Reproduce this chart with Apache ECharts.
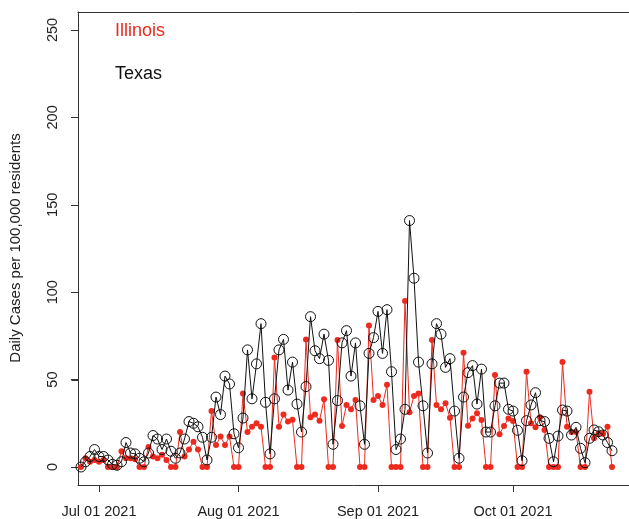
<!DOCTYPE html>
<html>
<head>
<meta charset="utf-8">
<script src="https://cdn.jsdelivr.net/npm/echarts@6/dist/echarts.min.js"></script>
<style>
html,body{margin:0;padding:0;background:#fff;}
#chart{width:629px;height:519px;}
</style>
</head>
<body>
<div id="chart"></div>
<script>
// Daily values from 2021-06-27 to 2021-10-23 (one per day)
const startDate = '2021-06-27';
const texas = [
  0, 3, 6, 10, 6, 6, 4, 1.5, 1, 3,
  14, 8, 7.5, 5, 3, 8, 18, 16, 10, 16,
  9, 5, 8, 16, 26, 25, 23, 17, 4, 17,
  40, 30, 52, 47.5, 19, 11, 28, 67, 39, 59,
  82, 37, 7.5, 39, 67, 73, 44, 60, 36, 20,
  46, 86, 66.5, 62, 76, 61, 13, 38, 71, 78,
  52, 71, 35, 13, 65, 74, 89, 65, 90, 54.5,
  10, 16, 33, 141, 108, 60, 35, 8, 59, 82,
  76, 57, 62, 32, 5, 40, 54, 58, 36, 56,
  20, 20, 35, 48, 48, 33, 32, 21, 3.6, 26.5,
  35.5, 42.5, 26.5, 26, 16.4, 3, 17.7, 32.6, 32, 18.3,
  22.7, 10.7, 2.5, 16.4, 21.2, 20.2, 18.3, 14, 9.3
];
const illinois = [
  0, 5, 3, 4, 3, 4, 0, 0, 0, 9,
  5, 5, 4.5, 0, 0, 11.5, 6, 5, 7, 4,
  0, 0, 20, 6, 10, 14.5, 10, 0, 0, 32,
  12.6, 17.4, 12.6, 17.4, 0, 0, 42, 20, 23, 25,
  23, 0, 0, 62.7, 23, 30, 26, 27, 0, 0,
  73, 28.4, 30, 26.5, 38.7, 0, 0, 72.7, 23.5, 35.5,
  33, 38.3, 0, 0, 81, 38.3, 40.6, 35.5, 47, 0,
  0, 0, 95, 31.3, 40.6, 42, 0, 0, 72.7, 35.5,
  33, 36.4, 28.2, 0, 0, 65.4, 23.6, 27.8, 30.7, 26.9,
  0, 0, 52.6, 18.7, 23.5, 27.8, 26.3, 0, 0, 54.5,
  25, 22.7, 28.4, 21.2, 0, 0, 0, 60, 23, 20,
  20, 0, 0, 43, 16.4, 19.3, 19, 23, 0
];
const tickDates = ['2021-07-01', '2021-08-01', '2021-09-01', '2021-10-01'];
const tickLabels = ['Jul 01 2021', 'Aug 01 2021', 'Sep 01 2021', 'Oct 01 2021'];
const yTicks = [0, 50, 100, 150, 200, 250];
const seriesNames = ['Illinois', 'Texas'];
const yTitle = 'Daily Cases per 100,000 residents';

// x value = days since the left edge of the plot (2021-06-26 08:00)
const DAY = 86400000;
const axisStart = Date.parse('2021-06-26T08:00:00Z');
const dayOf = s => (Date.parse(s + 'T00:00:00Z') - axisStart) / DAY;
const start = dayOf(startDate);
const toPairs = arr => arr.map((v, i) => [start + i, v]);
const tickPos = tickDates.map(dayOf);

const font = "'Liberation Sans', Arial, Helvetica, sans-serif";
const red = '#EE2A1E';
const axisCol = '#333';
const xMin = 0, xMax = 122.44;

const chart = echarts.init(document.getElementById('chart'), null, {renderer: 'canvas'});
chart.setOption({
  animation: false,
  backgroundColor: '#fff',
  grid: {left: 78, top: 12, right: 0, bottom: 34, show: false, containLabel: false},
  xAxis: [{
    type: 'value',
    position: 'bottom',
    min: xMin,
    max: xMax,
    axisLine: {show: true, onZero: false, lineStyle: {color: axisCol}},
    splitLine: {show: false},
    axisTick: {show: true, length: 7, lineStyle: {color: axisCol}, customValues: tickPos},
    axisLabel: {
      customValues: tickPos,
      margin: 19,
      color: '#222',
      fontSize: 14.5,
      fontFamily: font,
      formatter: v => {
        let best = 0;
        tickPos.forEach((p, i) => { if (Math.abs(p - v) < Math.abs(tickPos[best] - v)) best = i; });
        return tickLabels[best];
      }
    }
  }, {
    type: 'value',
    position: 'top',
    min: xMin,
    max: xMax,
    axisLine: {show: true, onZero: false, lineStyle: {color: axisCol}},
    splitLine: {show: false},
    axisTick: {show: false},
    axisLabel: {show: false}
  }],
  yAxis: {
    type: 'value',
    min: -10.3,
    max: 260.3,
    axisLine: {show: true, onZero: true, lineStyle: {color: axisCol}},
    splitLine: {show: false},
    axisTick: {show: true, length: 7, lineStyle: {color: axisCol, width: 1}, customValues: yTicks},
    axisLabel: {
      customValues: yTicks,
      rotate: 90,
      margin: 18,
      color: '#222',
      fontSize: 14.5,
      fontFamily: font
    }
  },
  graphic: [
    {type: 'text', rotation: Math.PI / 2,
     style: {text: yTitle, fill: '#222', font: '15px ' + font, textAlign: 'center', textVerticalAlign: 'middle'},
     position: [16, 248]},
    {type: 'text', position: [115, 31], style: {text: seriesNames[0], fill: red, font: '18px ' + font, textAlign: 'left', textVerticalAlign: 'middle'}},
    {type: 'text', position: [115, 74], style: {text: seriesNames[1], fill: '#111', font: '18px ' + font, textAlign: 'left', textVerticalAlign: 'middle'}}
  ],
  series: [
    {
      // y-axis tick marks, placed through the axis scale
      type: 'custom',
      silent: true,
      clip: false,
      data: yTicks.map(v => [xMin, v]),
      encode: {x: 0, y: 1},
      renderItem: (params, api) => {
        const p = api.coord([api.value(0), api.value(1)]);
        const y = Math.round(p[1]) + 0.5;
        const x = Math.round(p[0]) + 0.5;
        return {type: 'line', shape: {x1: x - 7, y1: y, x2: x, y2: y}, style: {stroke: axisCol, lineWidth: 1}};
      },
      z: 1
    },
    {
      name: seriesNames[0],
      type: 'line',
      data: toPairs(illinois),
      symbol: 'circle',
      symbolSize: 6,
      showAllSymbol: true,
      lineStyle: {color: red, width: 1},
      itemStyle: {color: red},
      z: 2
    },
    {
      name: seriesNames[1],
      type: 'line',
      data: toPairs(texas),
      symbol: 'circle',
      symbolSize: 10,
      showAllSymbol: true,
      lineStyle: {color: '#111', width: 1},
      itemStyle: {color: 'rgba(0,0,0,0)', borderColor: '#111', borderWidth: 1},
      z: 3
    }
  ]
});
</script>
</body>
</html>
